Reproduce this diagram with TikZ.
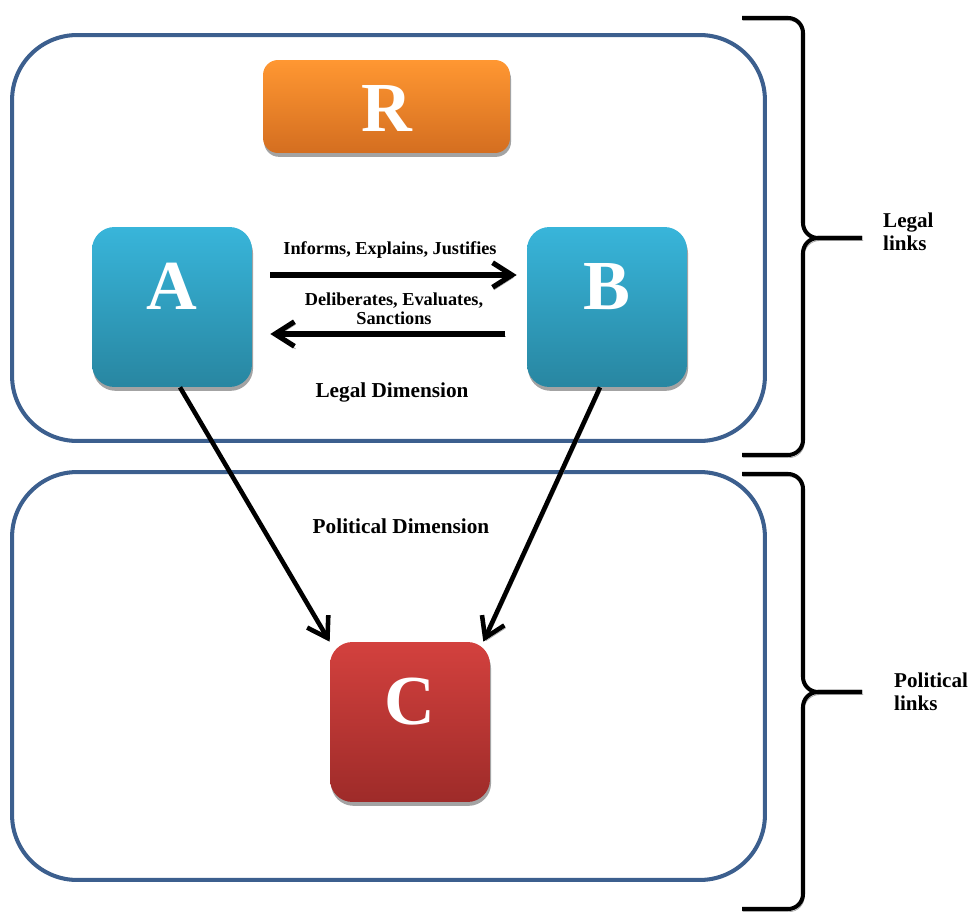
\documentclass[tikz,border=0pt]{standalone}
\usepackage{fontspec}
\setmainfont{Liberation Serif}
\usetikzlibrary{arrows.meta,shadows}

\definecolor{frameblue}{HTML}{3C5F8E}
\definecolor{rtop}{HTML}{FF9732}
\definecolor{rbot}{HTML}{D46E20}
\definecolor{abtop}{HTML}{38B5DA}
\definecolor{abbot}{HTML}{2886A1}
\definecolor{ctop}{HTML}{D3413E}
\definecolor{cbot}{HTML}{9E2B29}

\begin{document}
\begin{tikzpicture}[
        x=0.02cm, y=-0.02cm,
        frame/.style={rectangle, draw=frameblue, line width=2.3pt, rounded corners=1.3cm},
        box/.style={rectangle, rounded corners=0.45cm, minimum width=3.2cm, minimum height=3.2cm,
            text=white, font=\bfseries\fontsize{40}{40}\selectfont, text height=1.05cm, text depth=0.95cm,
            drop shadow={shadow xshift=0.6pt, shadow yshift=-2.2pt, fill=black!45, opacity=0.8}},
        lbl/.style={font=\bfseries\fontsize{10.4}{10.8}\selectfont, align=center},
        dim/.style={font=\bfseries\fontsize{12.1}{12.5}\selectfont},
        side/.style={font=\bfseries\fontsize{12}{13}\selectfont, align=left, anchor=west},
        lshadow/.style={preaction={draw=black!35, transform canvas={shift={(0.7pt,-1.5pt)}}}},
        arrow/.style={-{Straight Barb[length=11pt, width=14pt]}, line width=2.9pt, lshadow},
        bracel/.style={draw, line width=2.3pt, rounded corners=0.3cm, lshadow}
    ]
        \useasboundingbox (0,0) rectangle (970,912);

        % the two dimensions
        \node[frame, minimum width=15.06cm, minimum height=8.12cm] (legal) at (388.5,238) {};
        \node[frame, minimum width=15.06cm, minimum height=8.16cm] (political) at (388.5,676) {};

        \node[box, top color=rtop, bottom color=rbot, minimum width=4.94cm, minimum height=1.86cm,
            rounded corners=0.3cm, text height=1.1cm, text depth=0.08cm] (R) at (386.5,106.5) {R};
        \node[box, top color=abtop, bottom color=abbot] (A) at (172,307) {A};
        \node[box, top color=abtop, bottom color=abbot] (B) at (607,307) {B};
        \node[box, top color=ctop, bottom color=cbot] (C) at (410,722) {C};

        \node[lbl] (inform) at (390,250) {Informs, Explains, Justifies};
        \node[lbl] (deliberate) at (394,309) {Deliberates, Evaluates,\\Sanctions};
        \node[dim] (legaldim) at (392,392) {Legal Dimension};
        \node[dim] (politicaldim) at (401,526) {Political Dimension};

        \draw[arrow, shorten <=0.36cm, shorten >=0.2cm] ([yshift=0.64cm]A.east) -- ([yshift=0.64cm]B.west);
        \draw[arrow, shorten <=0.44cm, shorten >=0.36cm] ([yshift=-0.54cm]B.west) -- ([yshift=-0.54cm]A.east);
        \draw[arrow, line width=2.6pt] ([xshift=0.16cm]A.south) -- (C.north west);
        \draw[arrow, line width=2.6pt] ([xshift=-0.14cm]B.south) -- ([xshift=-0.14cm]C.north east);

        % braces
        \draw[bracel] (742,18) -- (803,18) -- (803,238) -- (862,238);
        \draw[bracel] (862,238) -- (803,238) -- (803,455) -- (742,455);
        \draw[bracel] (742,474) -- (803,474) -- (803,692) -- (862,692);
        \draw[bracel] (862,692) -- (803,692) -- (803,909) -- (742,909);

        \node[side] (legallinks) at (877,232) {Legal\\links};
        \node[side] (politicallinks) at (888,692) {Political\\links};
    \end{tikzpicture}
\end{document}
